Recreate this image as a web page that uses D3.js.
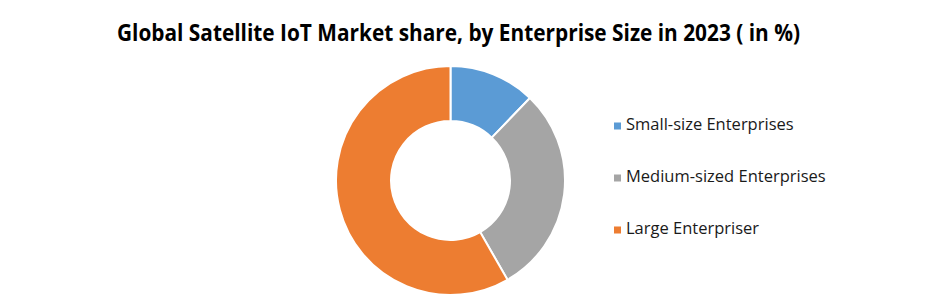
<!DOCTYPE html>
<html>
<head>
<meta charset="utf-8">
<script src="https://cdn.jsdelivr.net/npm/d3@7"></script>
<style>
  body { margin: 0; background: #fff; }
</style>
</head>
<body>
<div id="chart"></div>
<script>
const title = "Global Satellite IoT Market share, by Enterprise Size in 2023 ( in %)";
const categories = ["Small-size Enterprises", "Medium-sized Enterprises", "Large Enterpriser"];
const shares = [12.2, 29.5, 58.3];
const colors = ["#5B9BD5", "#A5A5A5", "#ED7D31"];

const width = 925, height = 306;
const cx = 450.5, cy = 180.5;
const outerR = 114.5, innerR = 59.5;

const svg = d3.select("#chart").append("svg")
  .attr("width", width)
  .attr("height", height);

// title, squeezed a bit to mimic the narrow Calibri look
svg.append("text")
  .attr("x", 117)
  .attr("y", 41)
  .attr("font-family", "'Open Sans', sans-serif")
  .attr("font-weight", "bold")
  .attr("font-size", 22.5)
  .attr("fill", "#000")
  .attr("textLength", 683)
  .attr("lengthAdjust", "spacingAndGlyphs")
  .text(title);

const data = categories.map((c, i) => ({ name: c, value: shares[i], color: colors[i] }));

const pie = d3.pie().value(d => d.value).sort(null);
const arc = d3.arc().innerRadius(innerR).outerRadius(outerR);

svg.append("g")
  .attr("transform", `translate(${cx},${cy})`)
  .selectAll("path")
  .data(pie(data))
  .join("path")
  .attr("d", arc)
  .attr("fill", d => d.data.color)
  .attr("stroke", "#fff")
  .attr("stroke-width", 2);

// legend
const legend = svg.append("g").attr("transform", "translate(614,130)");
const rows = legend.selectAll("g")
  .data(data)
  .join("g")
  .attr("transform", (d, i) => `translate(0,${i * 52})`);

rows.append("rect")
  .attr("x", 0)
  .attr("y", -7.5)
  .attr("width", 7)
  .attr("height", 7)
  .attr("fill", d => d.color);

rows.append("text")
  .attr("x", 12)
  .attr("y", 0)
  .attr("font-family", "'Open Sans', sans-serif")
  .attr("font-size", 16.5)
  .attr("fill", "#1a1a1a")
  .text(d => d.name);
</script>
</body>
</html>
